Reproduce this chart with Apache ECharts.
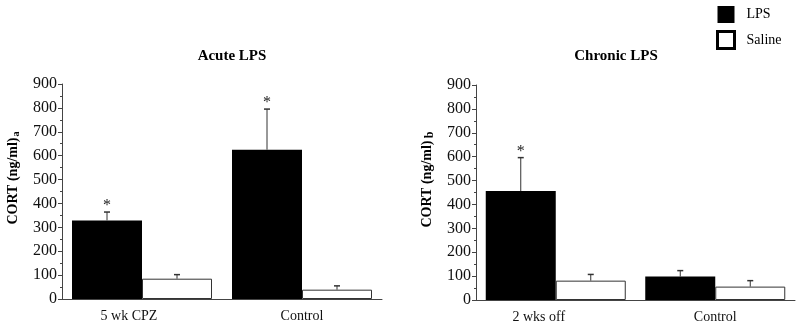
<!DOCTYPE html>
<html>
<head>
<meta charset="utf-8">
<script src="https://cdn.jsdelivr.net/npm/echarts@6/dist/echarts.min.js"></script>
<style>
  html, body { margin: 0; padding: 0; background: #fff; }
  #main { width: 800px; height: 329px; }
</style>
</head>
<body>
<div id="main"></div>
<script>
// data
var acuteCats = ['5 wk CPZ', 'Control'];
var acuteLps = [329, 625];
var acuteLpsErr = [35, 170];
var acuteSaline = [85, 39];
var acuteSalineErr = [17, 16];
var acuteSig = [true, true];

var chronicCats = ['2 wks off', 'Control'];
var chronicLps = [456, 98];
var chronicLpsErr = [140, 25];
var chronicSaline = [81, 56];
var chronicSalineErr = [26, 25];
var chronicSig = [true, false];

var yTicks = [0, 100, 200, 300, 400, 500, 600, 700, 800, 900];

var FONT = '"Liberation Serif", "DejaVu Serif", serif';
var chart = echarts.init(document.getElementById('main'));

function errData(means, errs, sig) {
  return means.map(function (m, i) {
    return [i, m, m + errs[i], sig ? (sig[i] ? 1 : 0) : 0];
  });
}

// whisker (up only) + cap, optional asterisk above
function errRender(shift) {
  return function (params, api) {
    var base = api.coord([api.value(0), api.value(1)]);
    var top = api.coord([api.value(0), api.value(2)]);
    var x = base[0] + shift;
    var kids = [
      { type: 'line', shape: { x1: x, y1: base[1], x2: x, y2: top[1] },
        style: { stroke: '#333', lineWidth: 1 } },
      { type: 'line', shape: { x1: x - 3, y1: top[1], x2: x + 3, y2: top[1] },
        style: { stroke: '#333', lineWidth: 1.5 } }
    ];
    if (api.value(3)) {
      kids.push({ type: 'text', x: x, y: top[1] - 6,
        style: { text: '*', font: '16px ' + FONT, fill: '#222',
                 textAlign: 'center', textVerticalAlign: 'middle' } });
    }
    return { type: 'group', children: kids };
  };
}

function yAxisCfg(gi) {
  return {
    gridIndex: gi, type: 'value', min: 0, max: 900, interval: 100,
    axisLine: { show: true, lineStyle: { color: '#444', width: 1 } },
    axisTick: { show: true, inside: false, length: 4, lineStyle: { color: '#444' } },
    minorTick: { show: true, splitNumber: 2, length: 2, lineStyle: { color: '#444' } },
    splitLine: { show: false },
    axisLabel: { margin: 5, color: '#111', fontSize: 16, fontFamily: FONT,
      formatter: function (v) { return yTicks.indexOf(v) >= 0 ? String(v) : ''; } }
  };
}

// first label in each panel sits left of its group in the original
function xAxisCfg(gi, cats, firstShift) {
  return {
    gridIndex: gi, type: 'category',
    data: cats.map(function (c, i) {
      return i === 0 ? { value: c, textStyle: { padding: [0, firstShift, 0, 0] } } : c;
    }),
    axisLine: { show: true, lineStyle: { color: '#444', width: 1 } },
    axisTick: { show: false },
    axisLabel: { margin: 10, color: '#111', fontSize: 14, fontFamily: FONT }
  };
}

var lpsStyle = { color: '#000', borderColor: '#000', borderWidth: 0 };
var salStyle = { color: '#fff', borderColor: '#333', borderWidth: 1 };

var option = {
  backgroundColor: '#fff',
  animation: false,
  title: [
    { text: 'Acute LPS', left: 227, top: 44, textAlign: 'center',
      textStyle: { fontFamily: FONT, fontWeight: 'bold', fontSize: 15, color: '#000' } },
    { text: 'Chronic LPS', left: 611, top: 44, textAlign: 'center',
      textStyle: { fontFamily: FONT, fontWeight: 'bold', fontSize: 15, color: '#000' } }
  ],
  legend: {
    orient: 'vertical', left: 716, top: 6, padding: 0,
    itemWidth: 17, itemHeight: 17, itemGap: 7,
    textStyle: { fontFamily: FONT, fontSize: 14, color: '#000', padding: [0, 0, 0, 7] },
    data: [
      { name: 'LPS', icon: 'rect', itemStyle: { color: '#000', borderWidth: 0 } },
      { name: 'Saline', icon: 'rect', itemStyle: { color: '#fff', borderColor: '#000', borderWidth: 3 } }
    ]
  },
  grid: [
    { left: 62, top: 84, width: 320, height: 215 },
    { left: 476, top: 85, width: 319, height: 215 }
  ],
  xAxis: [xAxisCfg(0, acuteCats, 26), xAxisCfg(1, chronicCats, 34)],
  yAxis: [yAxisCfg(0), yAxisCfg(1)],
  graphic: [
    { type: 'text', x: 13, y: 181, rotation: Math.PI / 2,
      style: { text: 'CORT (ng/ml)', font: 'bold 14px ' + FONT, fill: '#000',
               textAlign: 'center', textVerticalAlign: 'middle' } },
    { type: 'text', x: 16, y: 134, rotation: Math.PI / 2,
      style: { text: 'a', font: 'bold 10px ' + FONT, fill: '#000',
               textAlign: 'center', textVerticalAlign: 'middle' } },
    { type: 'text', x: 427, y: 184, rotation: Math.PI / 2,
      style: { text: 'CORT (ng/ml)', font: 'bold 14px ' + FONT, fill: '#000',
               textAlign: 'center', textVerticalAlign: 'middle' } },
    { type: 'text', x: 430, y: 135, rotation: Math.PI / 2,
      style: { text: 'b', font: 'bold 12px ' + FONT, fill: '#000',
               textAlign: 'center', textVerticalAlign: 'middle' } }
  ],
  series: [
    { name: 'LPS', type: 'bar', xAxisIndex: 0, yAxisIndex: 0, data: acuteLps,
      barWidth: 70, barGap: '0%', itemStyle: lpsStyle },
    { name: 'Saline', type: 'bar', xAxisIndex: 0, yAxisIndex: 0, data: acuteSaline,
      barWidth: 70, barGap: '0%', itemStyle: salStyle },
    { name: 'LPS', type: 'bar', xAxisIndex: 1, yAxisIndex: 1, data: chronicLps,
      barWidth: 70, barGap: '0%', itemStyle: lpsStyle },
    { name: 'Saline', type: 'bar', xAxisIndex: 1, yAxisIndex: 1, data: chronicSaline,
      barWidth: 70, barGap: '0%', itemStyle: salStyle },
    { type: 'custom', xAxisIndex: 0, yAxisIndex: 0, renderItem: errRender(-35),
      data: errData(acuteLps, acuteLpsErr, acuteSig), z: 5 },
    { type: 'custom', xAxisIndex: 0, yAxisIndex: 0, renderItem: errRender(35),
      data: errData(acuteSaline, acuteSalineErr), z: 5 },
    { type: 'custom', xAxisIndex: 1, yAxisIndex: 1, renderItem: errRender(-35),
      data: errData(chronicLps, chronicLpsErr, chronicSig), z: 5 },
    { type: 'custom', xAxisIndex: 1, yAxisIndex: 1, renderItem: errRender(35),
      data: errData(chronicSaline, chronicSalineErr), z: 5 }
  ]
};
chart.setOption(option);
</script>
</body>
</html>
